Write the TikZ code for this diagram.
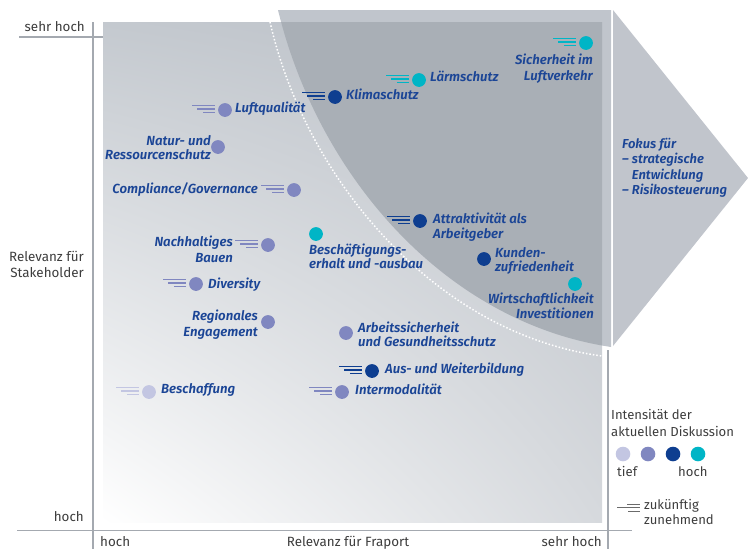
\documentclass[tikz,border=0pt]{standalone}
\usetikzlibrary{shadings}
\usepackage{fontspec}
\setmainfont{Fira Sans}
\newfontfamily\lblfont{Fira Sans}[UprightFont=* SemiBold, ItalicFont=* SemiBold Italic]
\definecolor{lblblue}{HTML}{1B4596}
\definecolor{cLight}{HTML}{C3C6E2}
\definecolor{cPeri}{HTML}{8087C0}
\definecolor{cNavy}{HTML}{0E3E90}
\definecolor{cCyan}{HTML}{00B5C6}
\definecolor{axtext}{HTML}{3D3D3D}
\definecolor{axline}{HTML}{A4A9B0}
\definecolor{lightregion}{HTML}{C0C5CC}
\definecolor{darkregion}{HTML}{A9AFB6}
\definecolor{arrowgrey}{HTML}{C1C5CC}
\definecolor{legline}{HTML}{6B6B6B}
\definecolor{shUL}{HTML}{C4C9CF}
\definecolor{shUR}{HTML}{BCC1C8}
\definecolor{shLL}{HTML}{FFFFFF}
\definecolor{shLR}{HTML}{D6D9DD}
\newcommand{\TL}[2]{\begin{tabular}[t]{@{}l@{}}#1\\#2\end{tabular}}
\newcommand{\TR}[2]{\begin{tabular}[t]{@{}r@{}}#1\\#2\end{tabular}}
\newcommand{\SL}[2]{%
  \draw[#2, line width=1.1pt] ([shift={(-33,-4.6)}]#1.center) -- ([shift={(-10,-4.6)}]#1.center);
  \draw[#2, line width=1.7pt] ([shift={(-28,-1.2)}]#1.center) -- ([shift={(-10,-1.2)}]#1.center);
  \draw[#2, line width=1.7pt] ([shift={(-22,2.4)}]#1.center) -- ([shift={(-10,2.4)}]#1.center);
}
\begin{document}
\begin{tikzpicture}[x=1pt,y=-1pt,
  lbl/.style={inner sep=0, text=lblblue, font=\lblfont\itshape\fontsize{13.2}{15}\selectfont},
  lw/.style={lbl, anchor=base west},
  le/.style={lbl, anchor=base east},
  sp14/.style={font=\lblfont\itshape\fontsize{13.2}{14}\selectfont},
  sp16/.style={font=\lblfont\itshape\fontsize{13.2}{16}\selectfont},
  bub/.style={circle, inner sep=0, minimum size=13.8pt},
  lbub/.style={circle, inner sep=0, minimum size=14.6pt},
  axt/.style={inner sep=0, text=axtext, font=\fontsize{13.4}{16.5}\selectfont},
  axl/.style={draw=axline, line width=1.1pt},
]
\useasboundingbox (0,0) rectangle (748,549);
% focus region
\fill[lightregion] (278,10) -- (611,10) -- (611,347) .. controls (445,322) and (318.5,176) .. (278,10) -- cycle;
% main field
\shade[upper left=shUL, upper right=shUR, lower left=shLL, lower right=shLR]
  (103,22) rectangle (602,522);
\begin{scope}
  \clip (103,22) rectangle (602,522);
  \fill[darkregion] (278,10) -- (611,10) -- (611,347) .. controls (445,322) and (318.5,176) .. (278,10) -- cycle;
\end{scope}
\draw[white, line width=1.5pt, dash pattern=on 1.5pt off 2pt] (270,22) .. controls (306,180) and (436,334) .. (602,356);
% arrow
\fill[arrowgrey] (613,10) -- (748,178) -- (613,346) -- cycle;
\node[lbl, anchor=base west, font=\lblfont\itshape\fontsize{13}{15.6}\selectfont] (fokus) at (622,148)
  {\begin{tabular}[t]{@{}l@{}}Fokus für\\– strategische\\\hphantom{– }Entwicklung\\– Risikosteuerung\end{tabular}};
% axes
\draw[axl] (93,22) -- (93,549);
\draw[axl] (19,37) -- (103,37);
\draw[axl] (17,530.5) -- (632,530.5);
\draw[axl] (608,350) -- (608,549);
\node[axt, anchor=base east] (ysh) at (85,31) {sehr hoch};
\node[axt, anchor=base east] (yh) at (84,521) {hoch};
\node[axt, anchor=base east] (ylab) at (84,261) {\TR{Relevanz für}{Stakeholder}};
\node[axt, anchor=base west] (xh) at (100,546) {hoch};
\node[axt, anchor=base] (xlab) at (348,546) {Relevanz für Fraport};
\node[axt, anchor=base east] (xsh) at (602,546) {sehr hoch};
% dots
\node[bub, fill=cCyan] (d1) at (586,43) {};
\node[bub, fill=cCyan] (d2) at (419,80) {};
\node[bub, fill=cNavy] (d3) at (335,97) {};
\node[bub, fill=cPeri] (d4) at (225,110) {};
\node[bub, fill=cPeri] (d5) at (218,147) {};
\node[bub, fill=cPeri] (d6) at (294,190) {};
\node[bub, fill=cPeri] (d7) at (268,245) {};
\node[bub, fill=cCyan] (d8) at (316,234) {};
\node[bub, fill=cNavy] (d9) at (420,221) {};
\node[bub, fill=cNavy] (d10) at (484,259) {};
\node[bub, fill=cCyan] (d11) at (575,284) {};
\node[bub, fill=cPeri] (d12) at (196,284) {};
\node[bub, fill=cPeri] (d13) at (268,322) {};
\node[bub, fill=cPeri] (d14) at (346,333) {};
\node[bub, fill=cNavy] (d15) at (372,371) {};
\node[bub, fill=cLight] (d16) at (149,392) {};
\node[bub, fill=cPeri] (d17) at (342,392) {};
% speed lines
\SL{d1}{cCyan}
\SL{d2}{cCyan}
\SL{d3}{cNavy}
\SL{d4}{cPeri}
\SL{d6}{cPeri}
\SL{d7}{cPeri}
\SL{d9}{cNavy}
\SL{d12}{cPeri}
\SL{d15}{cNavy}
\SL{d16}{cLight}
\SL{d17}{cPeri}
% labels
\node[le, sp16] (l1) at (593,64) {\TR{Sicherheit im}{Luftverkehr}};
\node[lw] (l2) at (430,81) {Lärmschutz};
\node[lw] (l3) at (346,99) {Klimaschutz};
\node[lw] (l4) at (235,112) {Luftqualität};
\node[le, sp14] (l5) at (211,145.5) {\TR{Natur- und}{Ressourcenschutz}};
\node[le] (l6) at (258,193) {Compliance/Governance};
\node[le, sp16] (l7) at (233,246) {\TR{Nachhaltiges}{Bauen}};
\node[lw, sp14] (l8) at (309,254) {\TL{Beschäftigungs-}{erhalt und -ausbau}};
\node[lw] (l9) at (433,223) {\TL{Attraktivität als}{Arbeitgeber}};
\node[lw, sp14] (l10) at (495,257) {\TL{Kunden-}{zufriedenheit}};
\node[le] (l11) at (594,303) {\TR{Wirtschaftlichkeit}{Investitionen}};
\node[lw] (l12) at (208,288) {Diversity};
\node[le, sp16] (l13) at (258,320) {\TR{Regionales}{Engagement}};
\node[lw, sp14] (l14) at (358,332) {\TL{Arbeitssicherheit}{und Gesundheitsschutz}};
\node[lw] (l15) at (385,373) {Aus- und Weiterbildung};
\node[lw] (l16) at (161,393) {Beschaffung};
\node[lw] (l17) at (355,394.5) {Intermodalität};
% legend
\node[axt, anchor=base west, font=\fontsize{13.1}{17}\selectfont] (legt) at (611,419) {\TL{Intensität der}{aktuellen Diskussion}};
\node[lbub, fill=cLight] (g1) at (623,454) {};
\node[lbub, fill=cPeri] (g2) at (648,454) {};
\node[lbub, fill=cNavy] (g3) at (673,454) {};
\node[lbub, fill=cCyan] (g4) at (698,454) {};
\node[axt, anchor=base west, font=\fontsize{13.1}{16}\selectfont] (gtief) at (617,476) {tief};
\node[axt, anchor=base west, font=\fontsize{13.1}{16}\selectfont] (ghoch) at (678,476) {hoch};
\coordinate (ge) at (640,507.5);
\draw[legline, line width=1.2pt] ([shift={(-13,-3.4)}]ge) -- ([shift={(0,-3.4)}]ge);
\draw[legline, line width=1.4pt] ([shift={(-23,0)}]ge) -- (ge);
\draw[legline, line width=1.2pt] ([shift={(-12,3.8)}]ge) -- ([shift={(0,3.8)}]ge);
\node[axt, anchor=base west, font=\fontsize{13.1}{15}\selectfont] (gzk) at (644,509) {\TL{zukünftig}{zunehmend}};
\end{tikzpicture}
\end{document}
